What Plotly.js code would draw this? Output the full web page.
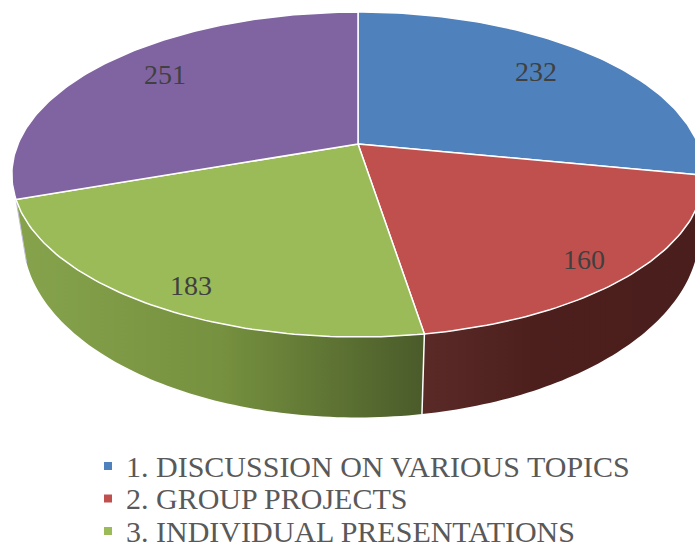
<!DOCTYPE html>
<html><head><meta charset="utf-8">
<script src="https://cdn.plot.ly/plotly-3.0.1.min.js"></script>
<style>html,body{margin:0;padding:0;background:#fff}#c{width:695px;height:544px}</style>
</head><body><div id="c"></div>
<script>
const categories = ["1. DISCUSSION ON VARIOUS TOPICS","2. GROUP PROJECTS","3. INDIVIDUAL PRESENTATIONS","4. OTHER"];
const values = [232,160,183,251];
const topColors = ["#4F81BD","#C0504D","#9BBB59","#8064A2"];
const wallScales = [
  [[0,"#3A5F8C"],[1,"#2A4566"]],
  [[0,"#5A2A27"],[0.4,"#4C1F1D"],[1,"#4A1E1C"]],
  [[0,"#86A34C"],[0.5,"#76913F"],[1,"#4A5B2A"]],
  [[0,"#C5BFD8"],[1,"#C5BFD8"]]
];
const legendCount = 3;
const labelSpots = [[536,71],[584,259],[191,285],[165,74]];
const legendKeyX = 108, legendTextX = 124, legendTopY = 466, legendStep = 32.5;

// perspective view of a tilted disc: two rims of the same form
const topRim = {cx:358,k:340,a:129.75,b:144,c:0.1877,s:0};
const lowRim = {cx:362,k:332,a:138.5,b:200.6,c:0.1877,s:4};
function project(rim,theta,r){
  const u=r*Math.sin(theta), v=r*Math.cos(theta), d=1+rim.c*v;
  return [rim.cx+(rim.k*u+rim.s*v)/d,(rim.b-rim.a*v)/d];
}
const total=values.reduce((s,v)=>s+v,0);
let acc=0;
const spans=values.map(v=>{const s=acc/total*2*Math.PI;acc+=v;return [s,acc/total*2*Math.PI];});
function arc(rim,s,e){
  const n=Math.max(2,Math.ceil((e-s)/(Math.PI/180))),pts=[];
  for(let i=0;i<=n;i++)pts.push(project(rim,s+(e-s)*i/n,1));
  return pts;
}
const traces=[];
// walls: only the near half of the disc is visible
[1,2].forEach(i=>{
  const [s,e]=spans[i];
  const pts=arc(topRim,s,e).concat(arc(lowRim,s,e).reverse());
  traces.push({type:"scatter",mode:"none",x:pts.map(p=>p[0]),y:pts.map(p=>p[1]),fill:"toself",
    fillgradient:{type:"horizontal",colorscale:wallScales[i]},showlegend:false,hoverinfo:"skip"});
});
// wall dividers
[[spans[1][1],"#FFFFFF",1.5],[spans[2][1],wallScales[3][0][1],1]].forEach(([t,col,w])=>{
  const a=project(topRim,t,1),b=project(lowRim,t,1);
  traces.push({type:"scatter",mode:"lines",x:[a[0],b[0]],y:[a[1],b[1]],line:{color:col,width:w},showlegend:false,hoverinfo:"skip"});
});
// top slices
values.forEach((v,i)=>{
  const [s,e]=spans[i];
  const pts=[project(topRim,0,0)].concat(arc(topRim,s,e));
  pts.push(pts[0]);
  traces.push({type:"scatter",mode:"lines",x:pts.map(p=>p[0]),y:pts.map(p=>p[1]),fill:"toself",fillcolor:topColors[i],
    line:{color:"#FFFFFF",width:1.5},showlegend:false,name:categories[i],text:String(v),hoverinfo:"text+name"});
});
// legend keys
const shown=categories.slice(0,legendCount);
traces.push({type:"scatter",mode:"markers",x:shown.map(()=>legendKeyX),y:shown.map((_,i)=>legendTopY+i*legendStep),
  marker:{symbol:"square",size:8,color:topColors.slice(0,legendCount)},showlegend:false,hoverinfo:"skip",cliponaxis:false});
const layout={
  width:695,height:544,margin:{l:0,r:0,t:0,b:0},paper_bgcolor:"#fff",plot_bgcolor:"#fff",
  xaxis:{range:[0,695],visible:false,fixedrange:true},
  yaxis:{range:[544,0],visible:false,fixedrange:true},
  showlegend:false,
  annotations:values.map((v,i)=>({x:labelSpots[i][0],y:labelSpots[i][1],xref:"x",yref:"y",text:String(v),showarrow:false,
    font:{family:"Liberation Serif",size:28,color:"#404040"}})).concat(
    shown.map((name,i)=>({x:legendTextX,y:legendTopY+i*legendStep,xref:"x",yref:"y",xanchor:"left",text:name,showarrow:false,
      font:{family:"Liberation Serif",size:30,color:"#595959"}})))
};
Plotly.newPlot("c",traces,layout,{displayModeBar:false,staticPlot:true});
</script></body></html>
